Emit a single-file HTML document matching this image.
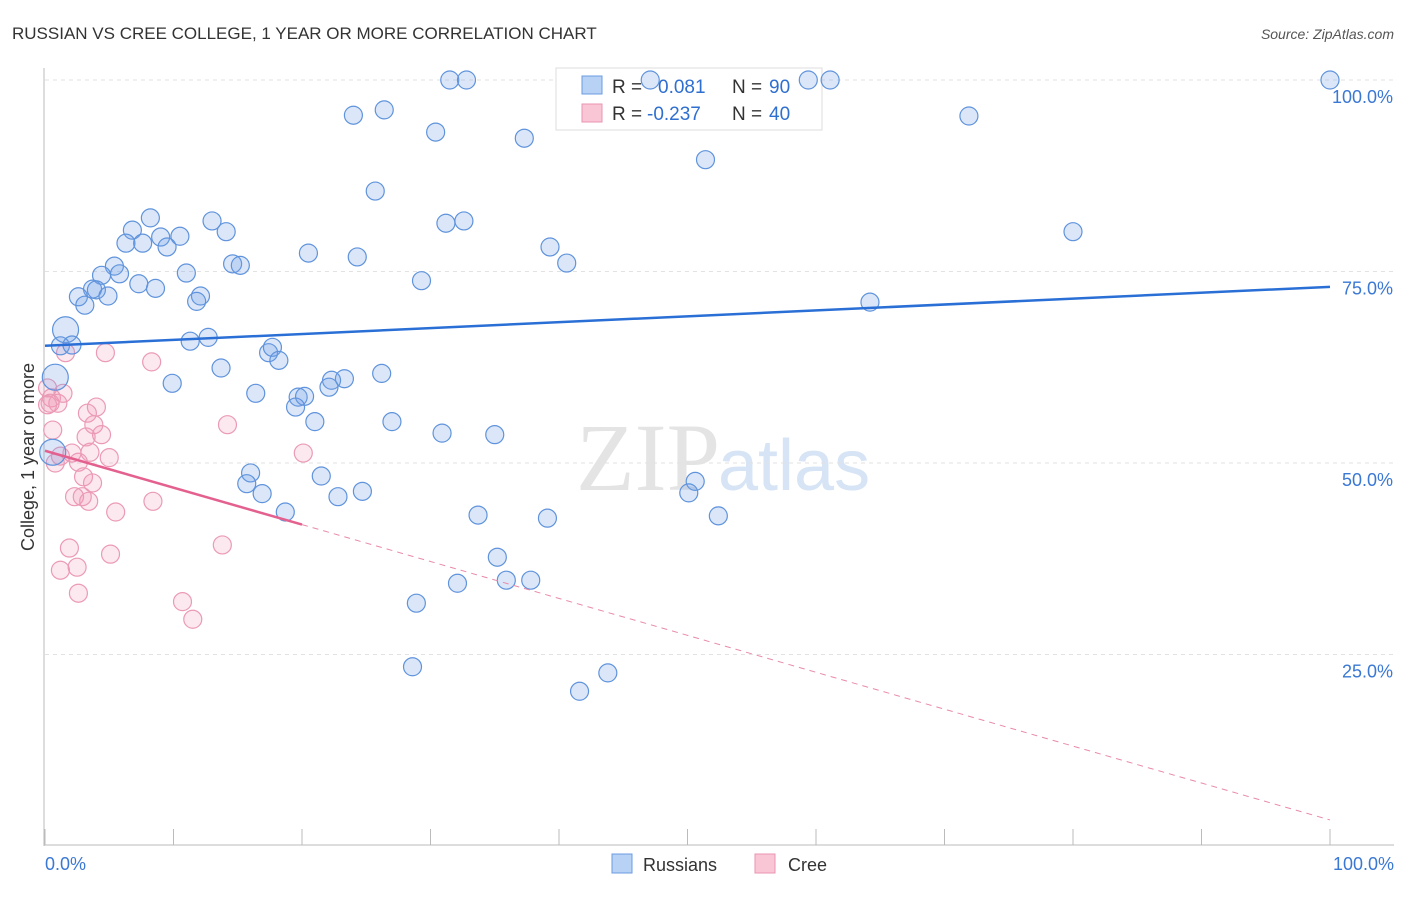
<!DOCTYPE html>
<html><head><meta charset="utf-8"><style>
body{margin:0;background:#fff;font-family:"Liberation Sans",sans-serif}
</style></head><body>
<svg id="chart" width="1406" height="892" xmlns="http://www.w3.org/2000/svg" font-family="Liberation Sans, sans-serif">
<text x="12" y="39" font-size="17" fill="#333">RUSSIAN VS CREE COLLEGE, 1 YEAR OR MORE CORRELATION CHART</text>
<text x="1394" y="39" font-size="14" fill="#555" text-anchor="end" font-style="italic">Source: ZipAtlas.com</text>
<text x="720" y="490" font-size="96" fill="#e4e4e4" text-anchor="end" font-family="Liberation Serif, serif">ZIP</text>
<text x="718" y="490" font-size="72" fill="#d6e4f5">atlas</text>
<g id="grid"></g><g id="axes"></g>
<g>
<rect x="556" y="68" width="266" height="62" fill="#fff" stroke="#ddd"/>
<rect x="582" y="76" width="20" height="18" fill="#b8d2f5" stroke="#6a9be0"/>
<rect x="582" y="104" width="20" height="18" fill="#f9c6d6" stroke="#eb94b2"/>
<text x="612" y="93" font-size="19" fill="#333">R =</text>
<text x="658" y="93" font-size="19" fill="#2f6fd0">0.081</text>
<text x="732" y="93" font-size="19" fill="#333">N =</text>
<text x="769" y="93" font-size="19" fill="#2f6fd0">90</text>
<text x="612" y="120" font-size="19" fill="#333">R =</text>
<text x="647" y="120" font-size="19" fill="#2f6fd0">-0.237</text>
<text x="732" y="120" font-size="19" fill="#333">N =</text>
<text x="769" y="120" font-size="19" fill="#2f6fd0">40</text>
</g>
<g id="pts"></g><g id="lines"></g>
<g>
<rect x="612" y="854" width="20" height="19" fill="#b8d2f5" stroke="#6a9be0"/>
<text x="643" y="871" font-size="18" fill="#333">Russians</text>
<rect x="755" y="854" width="20" height="19" fill="#f9c6d6" stroke="#eb94b2"/>
<text x="788" y="871" font-size="18" fill="#333">Cree</text>
</g>
<text x="45" y="870" font-size="18" fill="#3a78d4">0.0%</text>
<text x="1394" y="870" font-size="18" fill="#3a78d4" text-anchor="end">100.0%</text>
<text transform="translate(34,457) rotate(-90)" font-size="18" fill="#333" text-anchor="middle">College, 1 year or more</text>
</svg>
<script>
const blueX=[100,31.5,32.8,47.1,59.4,61.1,24.0,26.4,71.9,30.4,37.3,51.4,25.7,8.2,13.0,31.2,32.6,6.8,14.1,80.0,10.5,6.3,7.6,9.0,9.5,39.3,20.5,24.3,14.6,15.2,40.6,5.4,4.4,5.8,11.0,7.3,8.6,29.3,3.7,4.0,2.6,4.9,3.1,12.1,11.8,64.2,1.6,12.7,11.3,1.2,2.1,17.4,17.7,18.2,13.7,26.2,0.8,9.9,23.3,22.3,22.1,16.4,19.7,20.2,19.5,27.0,21.0,30.9,35.0,16.0,21.5,15.7,16.9,22.8,24.7,50.6,50.1,18.7,33.7,39.1,52.4,35.2,35.9,37.8,32.1,28.9,28.6,43.8,41.6,0.6];
const blueY=[100,100,100,100,100,100,95.4,96.1,95.3,93.2,92.4,89.6,85.5,82.0,81.6,81.3,81.6,80.4,80.2,80.2,79.6,78.7,78.7,79.5,78.2,78.2,77.4,76.9,76.0,75.8,76.1,75.7,74.5,74.7,74.8,73.4,72.8,73.8,72.7,72.6,71.7,71.8,70.6,71.8,71.1,71.0,67.4,66.4,65.9,65.3,65.4,64.4,65.1,63.4,62.4,61.7,61.2,60.4,61.0,60.8,59.9,59.1,58.6,58.7,57.3,55.4,55.4,53.9,53.7,48.7,48.3,47.3,46.0,45.6,46.3,47.6,46.1,43.6,43.2,42.8,43.1,37.7,34.7,34.7,34.3,31.7,23.4,22.6,20.2,51.4];
const blueBig=[46,56,89];
const pinkX=[1.6,4.7,8.3,1.4,0.5,1.0,0.4,4.0,3.3,3.8,4.4,3.2,0.6,14.2,3.5,2.1,1.2,0.8,2.6,5.0,20.1,3.0,3.7,2.3,2.9,3.4,8.4,5.5,1.9,5.1,13.8,1.2,2.5,2.6,10.7,11.5,0.2,0.2];
const pinkY=[64.4,64.4,63.2,59.1,58.5,57.8,57.8,57.3,56.5,55.0,53.7,53.4,54.3,55.0,51.4,51.3,50.9,50.0,50.1,50.7,51.3,48.2,47.4,45.6,45.6,45.0,45.0,43.6,38.9,38.1,39.3,36.0,36.4,33.0,31.9,29.6,59.8,57.6];
const blueTrend=[65.3,73.0];
const pinkTrend=[51.6,3.4];
const pinkSolidEnd=20;
const yTicks=[25,50,75,100];
const xTicks=[0,10,20,30,40,50,60,70,80,90,100];
const NS='http://www.w3.org/2000/svg';
const sx=v=>45+v*12.85, sy=v=>846-v*7.66;
function mk(tag,attrs,parent){const e=document.createElementNS(NS,tag);for(const k in attrs)e.setAttribute(k,attrs[k]);document.getElementById(parent).appendChild(e);return e;}
yTicks.forEach(t=>{
 const l=mk('line',{x1:45,x2:1394,y1:sy(t),y2:sy(t),stroke:'#e2e2e2','stroke-dasharray':'4,4'},'grid');
 
 
 const tx=mk('text',{x:1393,y:sy(t)+23,'font-size':18,fill:'#3a78d4','text-anchor':'end'},'grid');
 tx.textContent=t.toFixed(1)+'%';
 
 
});
const ax=mk('line',{x1:44,x2:44,y1:68,y2:846,stroke:'#bbb'},'axes');


const bx=mk('line',{x1:44,x2:1394,y1:845,y2:845,stroke:'#bbb'},'axes');


xTicks.forEach(t=>{
 const l=mk('line',{x1:sx(t),x2:sx(t),y1:829,y2:845,stroke:'#bbb'},'axes');
 
 
});
pinkX.forEach((x,i)=>{
 const c=mk('circle',{cx:sx(x),cy:sy(pinkY[i]),r:9,fill:'rgba(242,150,182,0.22)',stroke:'#eb9ab6','stroke-width':1.2},'pts');
 
 
});
blueX.forEach((x,i)=>{
 const c=mk('circle',{cx:sx(x),cy:sy(blueY[i]),r:blueBig.includes(i)?13:9,fill:'rgba(110,160,232,0.25)',stroke:'#5f93dc','stroke-width':1.2},'pts');
 
 
});
const bl=mk('line',{x1:sx(0),y1:sy(blueTrend[0]),x2:sx(100),y2:sy(blueTrend[1]),stroke:'#2a6fd6','stroke-width':2.5},'lines');


const pe=pinkTrend[0]+(pinkTrend[1]-pinkTrend[0])*pinkSolidEnd/100;
const pl=mk('line',{x1:sx(0),y1:sy(pinkTrend[0]),x2:sx(pinkSolidEnd),y2:sy(pe),stroke:'#e4608e','stroke-width':2.5},'lines');


const pd=mk('line',{x1:sx(pinkSolidEnd),y1:sy(pe),x2:sx(100),y2:sy(pinkTrend[1]),stroke:'#e88aab','stroke-width':1,'stroke-dasharray':'6,5'},'lines');


</script>
</body></html>
